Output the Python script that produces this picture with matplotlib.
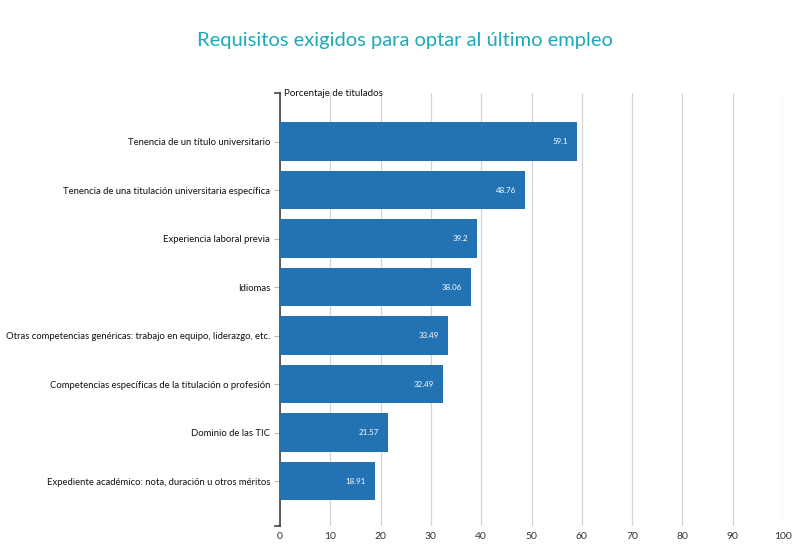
import matplotlib.pyplot as plt
import numpy as np

plt.rcParams['font.family'] = ['Lato', 'DejaVu Sans']

# Data
categories = [
    'Tenencia de un título universitario',
    'Tenencia de una titulación universitaria específica',
    'Experiencia laboral previa',
    'Idiomas',
    'Otras competencias genéricas: trabajo en equipo, liderazgo, etc.',
    'Competencias específicas de la titulación o profesión',
    'Dominio de las TIC',
    'Expediente académico: nota, duración u otros méritos',
]
values = [59.1, 48.76, 39.2, 38.06, 33.49, 32.49, 21.57, 18.91]
value_labels = ['59.1', '48.76', '39.2', '38.06', '33.49', '32.49', '21.57', '18.91']
xticks = [0, 10, 20, 30, 40, 50, 60, 70, 80, 90, 100]

fig = plt.figure(figsize=(8.09, 5.51), dpi=100)
ax = fig.add_axes([0.346, 0.045, 0.622, 0.786])

y = np.arange(len(categories))
ax.barh(y, values, height=0.79, color='#2372b4', zorder=3)

for yi, v, lab in zip(y, values, value_labels):
    ax.text(v - 1.8, yi, lab, ha='right', va='center', color='white',
            fontsize=5.7, zorder=4)

ax.set_xlim(0, 100)
ax.set_ylim(7.93, -1.0)
ax.set_xticks(xticks)
ax.set_xticklabels([str(t) for t in xticks])
ax.set_yticks(y)
ax.set_yticklabels(categories)

ax.grid(axis='x', color='#d4d4d4', linewidth=0.9, zorder=0)
for s in ['top', 'right', 'bottom']:
    ax.spines[s].set_visible(False)
ax.spines['left'].set_color('#444444')
ax.spines['left'].set_linewidth(1.2)

ax.tick_params(axis='x', length=0, labelsize=7.5, colors='#333333', pad=4)
ax.tick_params(axis='y', length=4, color='#bbbbbb', labelsize=6.8, labelcolor='#111111', pad=3)

# small end ticks on the left axis
ax.plot([-0.9, 0], [-1.0, -1.0], color='#444444', lw=1.2, clip_on=False)
ax.plot([-0.9, 0], [7.93, 7.93], color='#444444', lw=1.2, clip_on=False)

ax.text(0.8, -1.0, 'Porcentaje de titulados', ha='left', va='center',
        fontsize=7, color='#111111')

fig.text(0.5, 0.927, 'Requisitos exigidos para optar al último empleo',
         ha='center', va='center', fontsize=14.5, color='#1fa8bb')

fig.savefig('out.png', dpi=100)
